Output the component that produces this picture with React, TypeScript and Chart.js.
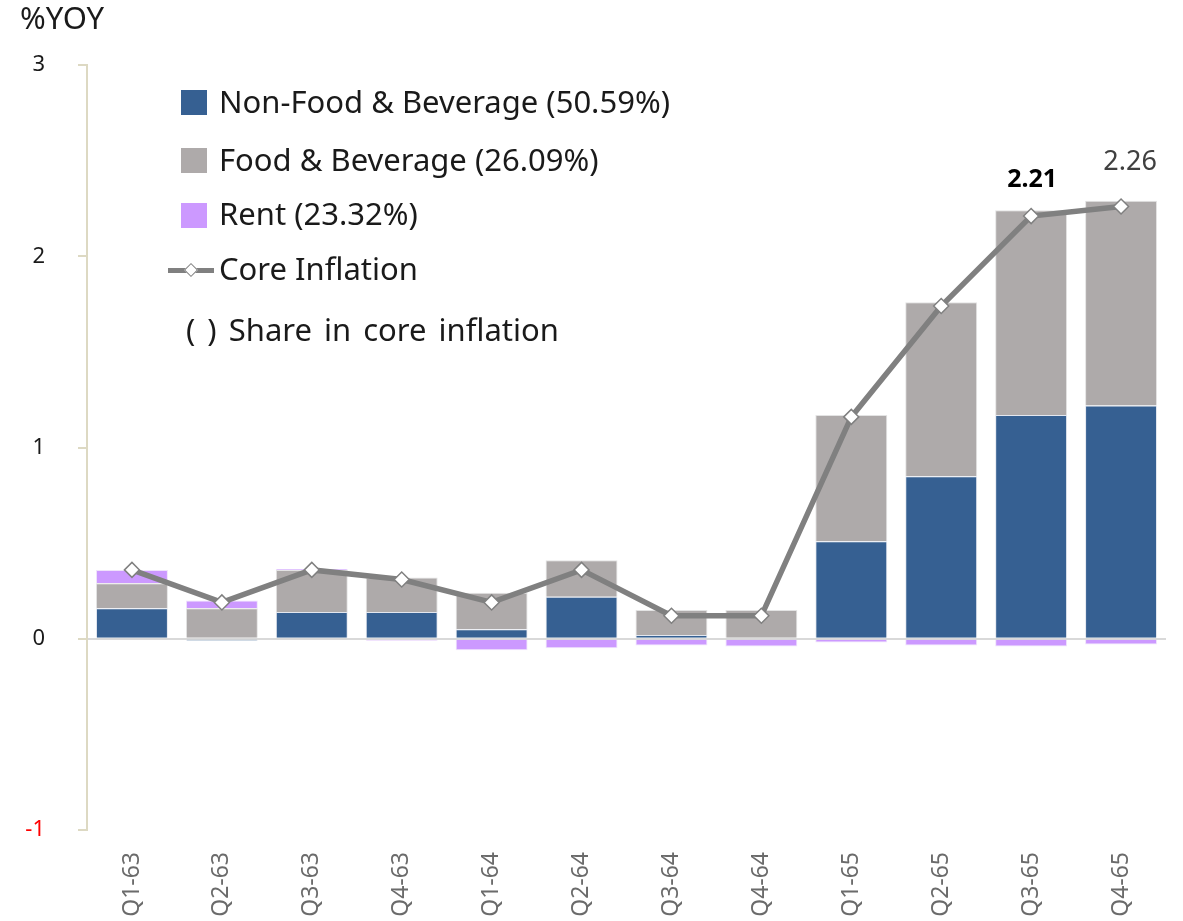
import React, { useEffect, useRef } from "react";
import { Chart, registerables } from "chart.js";

Chart.register(...registerables);

const categories = ["Q1-63", "Q2-63", "Q3-63", "Q4-63", "Q1-64", "Q2-64", "Q3-64", "Q4-64", "Q1-65", "Q2-65", "Q3-65", "Q4-65"];
const nonFood = [0.16, -0.01, 0.14, 0.14, 0.05, 0.22, 0.02, 0.0, 0.51, 0.85, 1.17, 1.22];
const food = [0.13, 0.16, 0.22, 0.18, 0.19, 0.19, 0.13, 0.15, 0.66, 0.91, 1.07, 1.07];
const rent = [0.07, 0.04, 0.005, -0.01, -0.06, -0.05, -0.035, -0.04, -0.02, -0.035, -0.04, -0.03];
const coreInflation = [0.36, 0.19, 0.36, 0.31, 0.19, 0.36, 0.12, 0.12, 1.16, 1.74, 2.21, 2.26];
const yTicks = [-1, 0, 1, 2, 3];

const FONT = "'Noto Sans', 'DejaVu Sans', sans-serif";

const legendItems = [
  { label: "Non-Food & Beverage (50.59%)", color: "#366092" },
  { label: "Food & Beverage (26.09%)", color: "#aeaaaa" },
  { label: "Rent (23.32%)", color: "#cc99ff" },
];

const labelPlugin = {
  id: "valueLabels",
  afterDatasetsDraw(chart: any) {
    const meta = chart.getDatasetMeta(0);
    const ctx = chart.ctx;
    ctx.save();
    ctx.textAlign = "center";
    ctx.textBaseline = "middle";
    const p10 = meta.data[10];
    const p11 = meta.data[11];
    if (p10) {
      ctx.font = `bold 25px ${FONT}`;
      ctx.fillStyle = "#000000";
      ctx.fillText(coreInflation[10].toFixed(2), p10.x + 1, p10.y - 36);
    }
    if (p11) {
      ctx.font = `27px ${FONT}`;
      ctx.fillStyle = "#404040";
      ctx.fillText(coreInflation[11].toFixed(2), p11.x + 9, p11.y - 44);
    }
    ctx.restore();
  },
};

export default function App() {
  const ref = useRef<HTMLCanvasElement>(null);
  useEffect(() => {
    if (!ref.current) return;
    const chart = new Chart(ref.current, {
      type: "bar",
      data: {
        labels: categories,
        datasets: [
          {
            type: "line",
            label: "Core Inflation",
            data: coreInflation,
            stack: "line",
            order: 0,
            borderColor: "#808080",
            borderWidth: 5.5,
            pointStyle: "rectRot",
            pointRadius: 7.5,
            pointBackgroundColor: "#ffffff",
            pointBorderColor: "#808080",
            pointBorderWidth: 1.5,
            tension: 0,
          } as any,
          {
            label: "Non-Food & Beverage (50.59%)",
            data: nonFood,
            backgroundColor: "#366092",
            borderColor: "rgba(220,225,235,0.8)",
            borderWidth: 1,
            stack: "bars",
            order: 1,
          },
          {
            label: "Food & Beverage (26.09%)",
            data: food,
            backgroundColor: "#aeaaaa",
            borderColor: "rgba(220,220,220,0.8)",
            borderWidth: 1,
            stack: "bars",
            order: 1,
          },
          {
            label: "Rent (23.32%)",
            data: rent,
            backgroundColor: "#cc99ff",
            borderColor: "rgba(235,220,250,0.8)",
            borderWidth: 1,
            stack: "bars",
            order: 1,
          },
        ],
      },
      options: {
        animation: false,
        responsive: false,
        maintainAspectRatio: false,
        datasets: { bar: { categoryPercentage: 1, barPercentage: 0.8 } },
        layout: { padding: { top: 65, right: 17, left: 0, bottom: 0 } },
        plugins: { legend: { display: false }, tooltip: { enabled: false } },
        scales: {
          x: {
            stacked: true,
            grid: { display: false, drawTicks: false },
            border: { display: false },
            ticks: {
              minRotation: 90,
              maxRotation: 90,
              padding: 22,
              color: "#6b6b6b",
              font: { family: FONT, size: 23 },
            },
            afterFit: (s: any) => {
              s.height = 91;
            },
          },
          y: {
            stacked: true,
            min: -1,
            max: 3,
            afterBuildTicks: (s: any) => {
              s.ticks = yTicks.map((v) => ({ value: v }));
            },
            ticks: {
              stepSize: 1,
              padding: 33,
              color: (c: any) => (c.tick && c.tick.value < 0 ? "#ff0000" : "#1a1a1a"),
              font: { family: FONT, size: 22 },
            },
            grid: {
              color: (c: any) => (c.tick && c.tick.value === 0 ? "#d9d9d9" : "rgba(0,0,0,0)"),
              lineWidth: 2,
              tickColor: "#ddd9c3",
              tickWidth: 2,
              tickLength: 9,
              drawTicks: true,
            },
            border: { display: true, color: "#ddd9c3", width: 2 },
            afterFit: (s: any) => {
              s.width = 87;
            },
          },
        },
      },
      plugins: [labelPlugin],
    });
    return () => chart.destroy();
  }, []);

  const textStyle: React.CSSProperties = {
    position: "absolute",
    fontFamily: FONT,
    fontSize: 31,
    color: "#1a1a1a",
    whiteSpace: "nowrap",
    lineHeight: "1",
  };

  return (
    <div style={{ position: "absolute", left: 0, top: 0, width: 1183, height: 921, background: "#fff" }}>
      <canvas ref={ref} width={1183} height={921} style={{ position: "absolute", left: 0, top: 0, width: 1183, height: 921 }} />
      <div style={{ ...textStyle, left: 20, top: 2, fontSize: 31 }}>%YOY</div>
      {legendItems.map((it, i) => (
        <React.Fragment key={it.label}>
          <div
            style={{
              position: "absolute",
              left: 181,
              top: [90, 148, 203][i],
              width: 26,
              height: 25,
              background: it.color,
            }}
          />
          <div style={{ ...textStyle, left: 219, top: [86, 144, 198][i] }}>{it.label}</div>
        </React.Fragment>
      ))}
      <div style={{ position: "absolute", left: 168, top: 268, width: 46, height: 5, background: "#808080" }} />
      <div
        style={{
          position: "absolute",
          left: 186,
          top: 265,
          width: 8,
          height: 8,
          background: "#fff",
          border: "1.5px solid #808080",
          transform: "rotate(45deg)",
        }}
      />
      <div style={{ ...textStyle, left: 219, top: 253 }}>Core Inflation</div>
      <div style={{ ...textStyle, left: 186, top: 314, wordSpacing: 4 }}>( ) Share in core inflation</div>
    </div>
  );
}
